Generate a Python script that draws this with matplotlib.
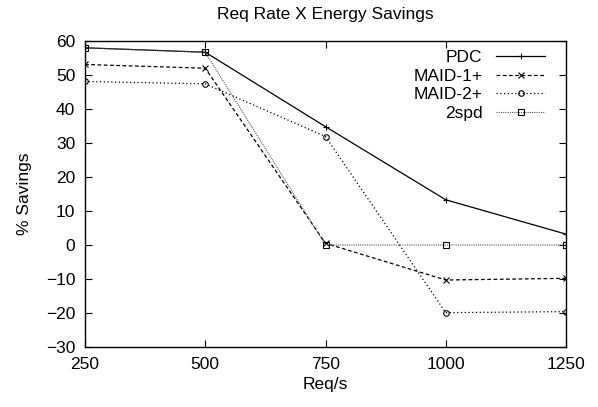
import matplotlib
matplotlib.use("Agg")
import matplotlib.pyplot as plt

req_rate = [250, 500, 750, 1000, 1250]
pdc = [58.0, 56.7, 34.8, 13.3, 3.2]
maid1 = [53.1, 52.0, 0.5, -10.3, -9.8]
maid2 = [48.1, 47.4, 31.9, -19.9, -19.6]
spd2 = [58.0, 56.7, 0.0, 0.0, 0.0]

plt.rcParams["font.family"] = ["Liberation Sans", "DejaVu Sans"]
fs = 12.5

fig = plt.figure(figsize=(5.98, 4.07), dpi=100)
ax = fig.add_axes([85 / 598, 1 - 347 / 407, 481 / 598, 306 / 407])

ax.plot(req_rate, pdc, color="black", lw=0.9, ls="-", marker="+", ms=5, mew=0.8, label="PDC")
ax.plot(req_rate, maid1, color="black", lw=0.9, ls=(0, (3, 2)), marker="x", ms=4, mew=0.8, label="MAID-1+")
ax.plot(req_rate, maid2, color="black", lw=0.9, ls=(0, (1, 2)), marker="o", ms=4, mew=0.8,
        mfc="none", label="MAID-2+")
ax.plot(req_rate, spd2, color="#555555", lw=0.8, ls=(0, (1, 1)), marker="s", ms=4, mew=0.8,
        mfc="none", mec="black", label="2spd")

ax.set_xlim(250, 1250)
ax.set_ylim(-30, 60)
ax.set_xticks(req_rate)
ax.set_yticks(range(-30, 61, 10))
ax.tick_params(direction="in", top=True, right=True, labelsize=fs, length=5, width=0.8, pad=7)
for s in ax.spines.values():
    s.set_linewidth(1.0)

ax.set_title("Req Rate X Energy Savings", fontsize=fs, pad=16)
ax.set_xlabel("Req/s", fontsize=fs, labelpad=4)
ax.set_ylabel("% Savings", fontsize=fs, labelpad=10)

ax.legend(loc="upper right", bbox_to_anchor=(0.956, 0.971), frameon=False, markerfirst=False,
          fontsize=fs, handlelength=2.8, handletextpad=0.8, labelspacing=0.2,
          borderaxespad=0, borderpad=0, alignment="right")

fig.savefig("out.png", dpi=100, facecolor="white")
